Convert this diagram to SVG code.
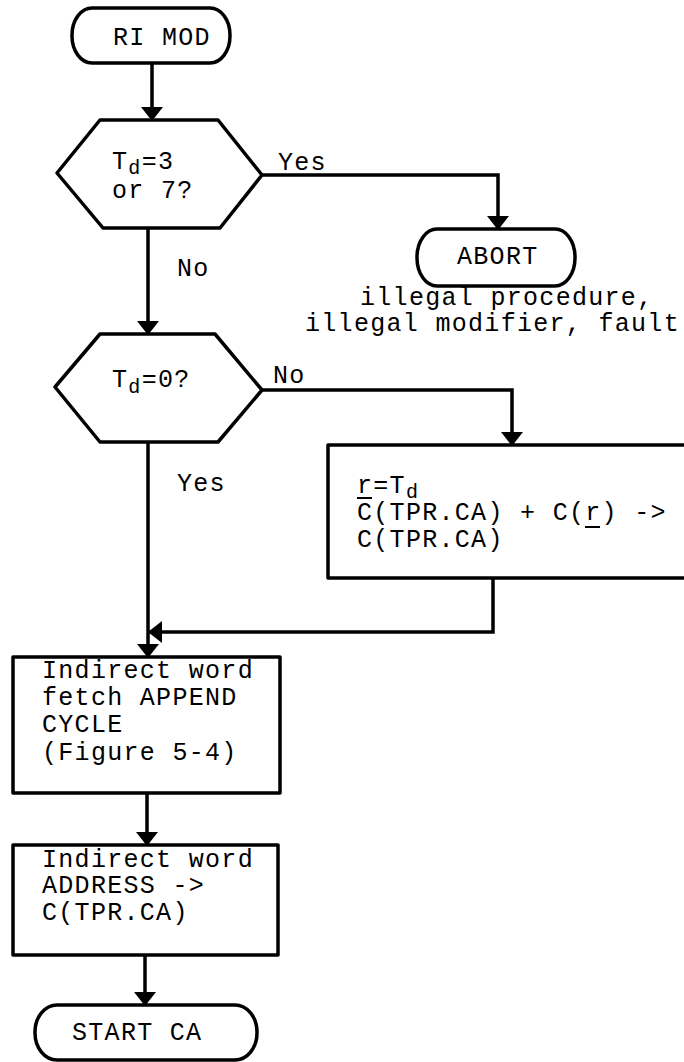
<svg xmlns="http://www.w3.org/2000/svg" width="684" height="1062" viewBox="0 0 684 1062">
<style>
.shape{fill:#fff;stroke:#000;stroke-width:3.5;stroke-linejoin:round}
.conn{fill:none;stroke:#000;stroke-width:3.5}
text{font-family:"Liberation Mono","DejaVu Sans Mono",monospace;font-size:25px;letter-spacing:1.3px;fill:#000}
.sub{font-size:20px}
.ul{stroke:#000;stroke-width:2}
</style>
<defs>
<marker id="ah" markerUnits="userSpaceOnUse" markerWidth="14" markerHeight="22" viewBox="0 0 14 22" refX="13" refY="11" orient="auto">
<path d="M0,0 L14,11 L0,22 Z" fill="#000"/>
</marker>
</defs>
<g id="connectors">
<path class="conn" d="M152,63 V120" marker-end="url(#ah)"/>
<path class="conn" d="M262,175 H498 V229" marker-end="url(#ah)"/>
<path class="conn" d="M148,228 V334" marker-end="url(#ah)"/>
<path class="conn" d="M262,390 H512 V445" marker-end="url(#ah)"/>
<path class="conn" d="M148,442 V657" marker-end="url(#ah)"/>
<path class="conn" d="M493,578 V632 H149" marker-end="url(#ah)"/>
<path class="conn" d="M147,793 V845" marker-end="url(#ah)"/>
<path class="conn" d="M145,955 V1005" marker-end="url(#ah)"/>
<text x="278" y="170">Yes</text>
<text x="177" y="276">No</text>
<text x="273" y="383">No</text>
<text x="177" y="491">Yes</text>
</g>
<g id="ri-mod">
<rect class="shape" x="72" y="8" width="158" height="55" rx="20" ry="27"/>
<text x="113" y="45">RI MOD</text>
</g>
<g id="decision-td37">
<polygon class="shape" points="100,120 218,120 262,175 220,228 103,228 57,173"/>
<text x="112" y="169">T<tspan class="sub" dy="5">d</tspan><tspan dy="-5">=3</tspan></text>
<text x="112" y="198">or 7?</text>
</g>
<g id="abort">
<rect class="shape" x="417" y="229" width="158" height="57" rx="20" ry="28"/>
<text x="457" y="264">ABORT</text>
<text x="360" y="305">illegal procedure,</text>
<text x="305" y="331">illegal modifier, fault</text>
</g>
<g id="decision-td0">
<polygon class="shape" points="100,334 215,334 262,390 218,442 100,442 55,387"/>
<text x="112" y="387">T<tspan class="sub" dy="6">d</tspan><tspan dy="-6">=0?</tspan></text>
</g>
<g id="modify-box">
<rect class="shape" x="328" y="445" width="370" height="133"/>
<text x="357" y="493">r=T<tspan class="sub" dy="5">d</tspan></text>
<line class="ul" x1="357" y1="498" x2="372" y2="498"/>
<text x="357" y="520">C(TPR.CA) + C(r) -&gt;</text>
<line class="ul" x1="585" y1="527" x2="600" y2="527"/>
<text x="357" y="547">C(TPR.CA)</text>
</g>
<g id="append-cycle">
<rect class="shape" x="13" y="657" width="267" height="136"/>
<text x="42" y="678">Indirect word</text>
<text x="42" y="705">fetch APPEND</text>
<text x="42" y="732">CYCLE</text>
<text x="42" y="760">(Figure 5-4)</text>
</g>
<g id="address-box">
<rect class="shape" x="13" y="845" width="265" height="110"/>
<text x="42" y="867">Indirect word</text>
<text x="42" y="893">ADDRESS -&gt;</text>
<text x="42" y="920">C(TPR.CA)</text>
</g>
<g id="start-ca">
<rect class="shape" x="35" y="1005" width="222" height="55" rx="22" ry="27"/>
<text x="72" y="1040">START CA</text>
</g>
</svg>
